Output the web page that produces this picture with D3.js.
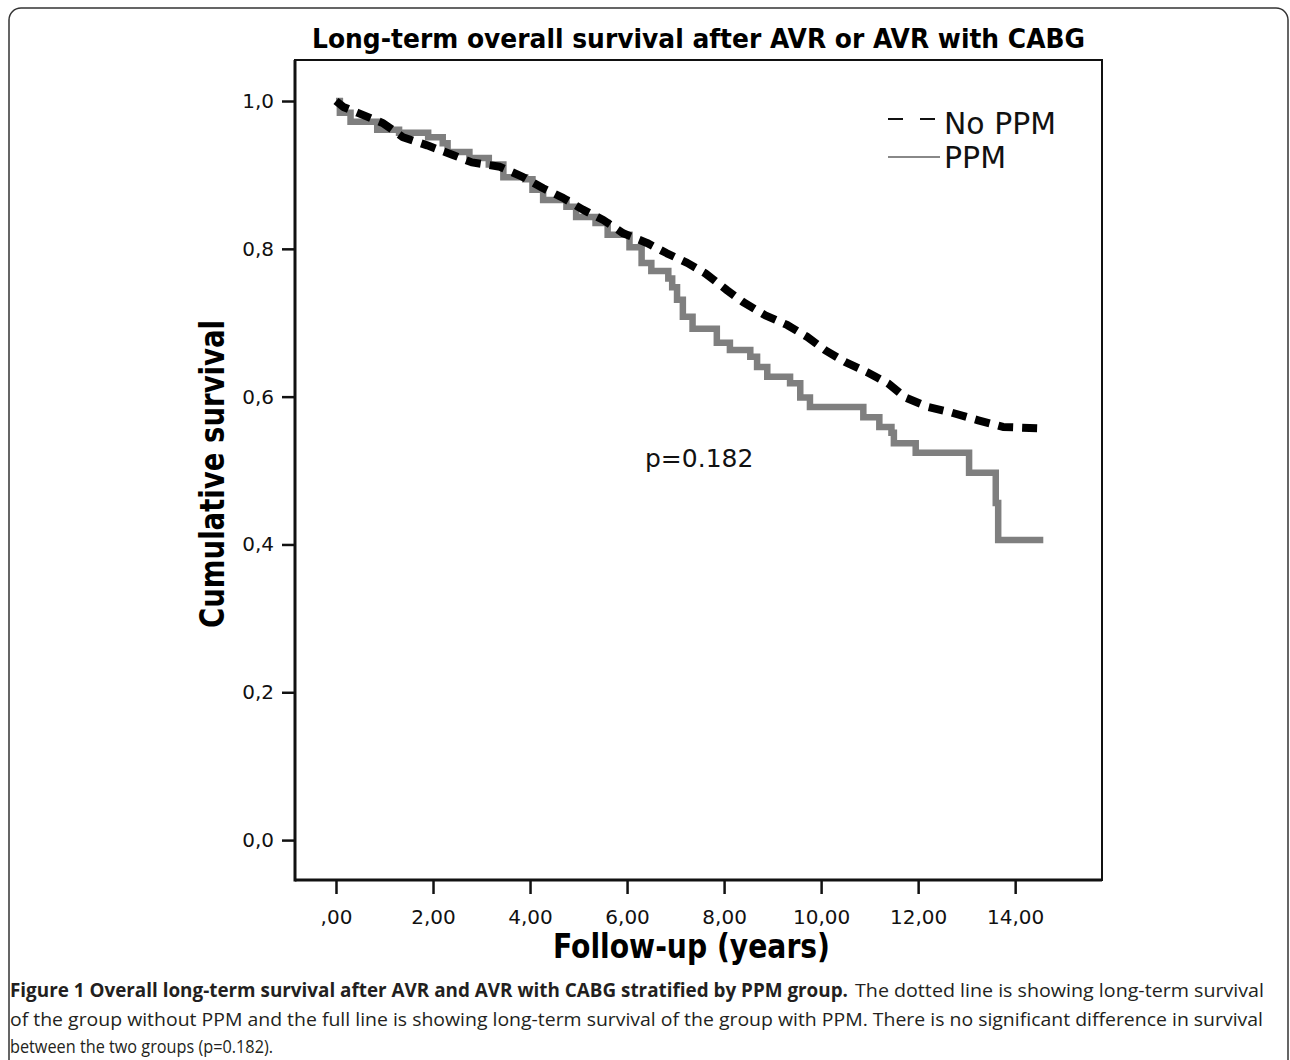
<!DOCTYPE html>
<html>
<head>
<meta charset="utf-8">
<script src="https://cdn.jsdelivr.net/npm/d3@7"></script>
<style>
  html, body { margin: 0; padding: 0; background: #fff; }
  svg { display: block; }
</style>
</head>
<body>
<svg id="chart" width="1290" height="1060"></svg>
<script>
// ---- data ----
const noPpmTime = [0, 0.15, 0.45, 0.97, 1.38, 1.88, 2.41, 2.80, 3.38, 3.86, 4.27, 4.68, 5.09, 5.51, 5.92, 6.41, 6.82, 7.24, 7.61, 8.06, 8.39, 8.85, 9.30, 9.71, 10.08, 10.49, 10.95, 11.38, 11.73, 12.21, 12.66, 13.24, 13.75, 14.58];
const noPpmSurv = [1.0, 0.992, 0.984, 0.970, 0.951, 0.940, 0.927, 0.917, 0.911, 0.897, 0.882, 0.869, 0.853, 0.839, 0.821, 0.808, 0.794, 0.781, 0.767, 0.744, 0.728, 0.710, 0.697, 0.681, 0.663, 0.647, 0.633, 0.618, 0.599, 0.586, 0.579, 0.568, 0.559, 0.557];

const ppmTime = [0, 0.08, 0.30, 0.85, 1.30, 1.90, 2.20, 2.30, 2.75, 3.15, 3.45, 3.90, 4.05, 4.27, 4.75, 4.95, 5.35, 5.60, 6.05, 6.30, 6.50, 6.85, 6.93, 7.03, 7.15, 7.35, 7.85, 8.12, 8.54, 8.68, 8.89, 9.36, 9.57, 9.77, 10.87, 11.20, 11.45, 11.50, 11.95, 13.05, 13.60, 13.65, 14.58];
const ppmSurv = [1.0, 0.984, 0.972, 0.961, 0.957, 0.951, 0.943, 0.931, 0.923, 0.914, 0.897, 0.894, 0.880, 0.866, 0.857, 0.843, 0.835, 0.819, 0.802, 0.781, 0.770, 0.760, 0.748, 0.731, 0.708, 0.692, 0.673, 0.663, 0.654, 0.640, 0.627, 0.618, 0.599, 0.586, 0.572, 0.559, 0.551, 0.537, 0.524, 0.497, 0.456, 0.406, 0.406];

const xTickValues = [0, 2, 4, 6, 8, 10, 12, 14];
const xTickLabels = [",00", "2,00", "4,00", "6,00", "8,00", "10,00", "12,00", "14,00"];
const yTickValues = [0, 0.2, 0.4, 0.6, 0.8, 1.0];
const yTickLabels = ["0,0", "0,2", "0,4", "0,6", "0,8", "1,0"];

const titleText = "Long-term overall survival after AVR or AVR with CABG";
const xTitle = "Follow-up (years)";
const yTitle = "Cumulative survival";
const legendLabels = ["No PPM", "PPM"];
const pValueText = "p=0.182";
const captionBold = "Figure 1 Overall long-term survival after AVR and AVR with CABG stratified by PPM group.";
const captionLines = [
  "The dotted line is showing long-term survival",
  "of the group without PPM and the full line is showing long-term survival of the group with PPM. There is no significant difference in survival",
  "between the two groups (p=0.182)."
];

// ---- layout ----
const svg = d3.select("#chart");
const plot = { left: 295, right: 1102, top: 60, bottom: 880 };

const x = d3.scaleLinear().domain([-0.845, 15.79]).range([plot.left, plot.right]);
const y = d3.scaleLinear().domain([-0.054, 1.0555]).range([plot.bottom, plot.top]);

// outer figure border (rounded)
svg.append("rect")
  .attr("x", 9).attr("y", 8).attr("width", 1279).attr("height", 1120)
  .attr("rx", 12).attr("ry", 12)
  .attr("fill", "none").attr("stroke", "#333").attr("stroke-width", 1.5);

// title
svg.append("text")
  .attr("x", 312).attr("y", 48)
  .attr("textLength", 773).attr("lengthAdjust", "spacingAndGlyphs")
  .style("font-family", "DejaVu Sans").style("font-weight", "bold").style("font-size", "26px")
  .text(titleText);

// y axis
const yAxis = d3.axisLeft(y)
  .tickValues(yTickValues)
  .tickFormat((d, i) => yTickLabels[i])
  .tickSize(13).tickSizeOuter(0).tickPadding(8);
const gy = svg.append("g").attr("transform", `translate(${plot.left},0)`).call(yAxis);
gy.select(".domain").remove();
gy.selectAll(".tick line").attr("stroke", "#111").attr("stroke-width", 2.5);
gy.selectAll(".tick text")
  .style("font-family", "DejaVu Sans").style("font-size", "20px").attr("fill", "#111");

// x axis
const xAxis = d3.axisBottom(x)
  .tickValues(xTickValues)
  .tickFormat((d, i) => xTickLabels[i])
  .tickSize(14).tickSizeOuter(0).tickPadding(16);
const gx = svg.append("g").attr("transform", `translate(0,${plot.bottom})`).call(xAxis);
gx.select(".domain").remove();
gx.selectAll(".tick line").attr("stroke", "#111").attr("stroke-width", 2.5);
gx.selectAll(".tick text")
  .style("font-family", "DejaVu Sans").style("font-size", "20px").attr("fill", "#111");

// plot frame
svg.append("rect")
  .attr("x", plot.left).attr("y", plot.top)
  .attr("width", plot.right - plot.left).attr("height", plot.bottom - plot.top)
  .attr("fill", "none").attr("stroke", "#111").attr("stroke-width", 2);
svg.append("line").attr("x1", plot.left).attr("x2", plot.left).attr("y1", plot.top).attr("y2", plot.bottom + 1.5)
  .attr("stroke", "#111").attr("stroke-width", 3);
svg.append("line").attr("x1", plot.left).attr("x2", plot.right).attr("y1", plot.bottom).attr("y2", plot.bottom)
  .attr("stroke", "#111").attr("stroke-width", 3);

// axis titles
svg.append("text")
  .attr("x", 553).attr("y", 958)
  .attr("textLength", 277).attr("lengthAdjust", "spacingAndGlyphs")
  .style("font-family", "DejaVu Sans Condensed, DejaVu Sans").style("font-weight", "bold").style("font-size", "33px")
  .text(xTitle);

svg.append("text")
  .attr("transform", "translate(224,628) rotate(-90)")
  .attr("x", 0).attr("y", 0)
  .attr("textLength", 308).attr("lengthAdjust", "spacingAndGlyphs")
  .style("font-family", "DejaVu Sans Condensed, DejaVu Sans").style("font-weight", "bold").style("font-size", "33px")
  .text(yTitle);

// curves
const noPpmData = noPpmTime.map((t, i) => [t, noPpmSurv[i]]);
const ppmData = ppmTime.map((t, i) => [t, ppmSurv[i]]);

const stepLine = d3.line().x(d => x(d[0])).y(d => y(d[1])).curve(d3.curveStepAfter);
const smoothLine = d3.line().x(d => x(d[0])).y(d => y(d[1])).curve(d3.curveLinear);

svg.append("path")
  .datum(ppmData)
  .attr("d", stepLine)
  .attr("fill", "none").attr("stroke", "#7f7f7f").attr("stroke-width", 6.5)
  .attr("stroke-linejoin", "miter");

svg.append("path")
  .datum(noPpmData)
  .attr("d", smoothLine)
  .attr("fill", "none").attr("stroke", "#000").attr("stroke-width", 8)
  .attr("stroke-dasharray", "15,9")
  .attr("stroke-linejoin", "round");

// p-value
svg.append("text")
  .attr("x", 645).attr("y", 467)
  .style("font-family", "DejaVu Sans").style("font-size", "25px").attr("fill", "#111")
  .text(pValueText);

// legend
svg.append("line").attr("x1", 888).attr("x2", 935).attr("y1", 119).attr("y2", 119)
  .attr("stroke", "#111").attr("stroke-width", 2).attr("stroke-dasharray", "15,17");
svg.append("line").attr("x1", 888).attr("x2", 940).attr("y1", 157).attr("y2", 157)
  .attr("stroke", "#888").attr("stroke-width", 2);
svg.append("text").attr("x", 944).attr("y", 134)
  .attr("textLength", 112).attr("lengthAdjust", "spacingAndGlyphs")
  .style("font-family", "DejaVu Sans").style("font-size", "30px").attr("fill", "#111")
  .text(legendLabels[0]);
svg.append("text").attr("x", 944).attr("y", 168)
  .style("font-family", "DejaVu Sans").style("font-size", "30px").attr("fill", "#111")
  .text(legendLabels[1]);

// caption
const capFont = "Open Sans, Noto Sans, sans-serif";
svg.append("text").attr("x", 10).attr("y", 997)
  .attr("textLength", 838).attr("lengthAdjust", "spacingAndGlyphs")
  .style("font-family", capFont).style("font-weight", "bold").style("font-size", "19px").attr("fill", "#231f20")
  .text(captionBold);
svg.append("text").attr("x", 855).attr("y", 997)
  .attr("textLength", 409).attr("lengthAdjust", "spacingAndGlyphs")
  .style("font-family", capFont).style("font-size", "19px").attr("fill", "#231f20")
  .text(captionLines[0]);
svg.append("text").attr("x", 10).attr("y", 1026)
  .attr("textLength", 1253).attr("lengthAdjust", "spacingAndGlyphs")
  .style("font-family", capFont).style("font-size", "19px").attr("fill", "#231f20")
  .text(captionLines[1]);
svg.append("text").attr("x", 10).attr("y", 1053)
  .attr("textLength", 263).attr("lengthAdjust", "spacingAndGlyphs")
  .style("font-family", capFont).style("font-size", "19px").attr("fill", "#231f20")
  .text(captionLines[2]);
</script>
</body>
</html>
